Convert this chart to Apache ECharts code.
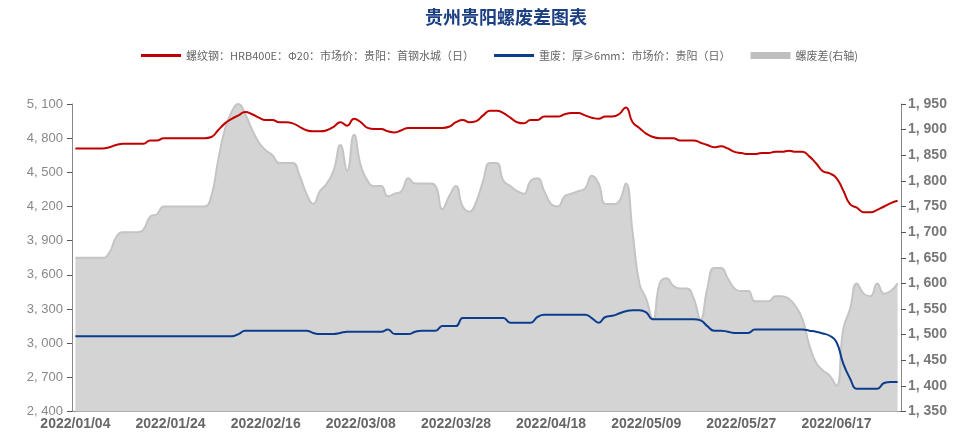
<!DOCTYPE html>
<html>
<head>
<meta charset="utf-8">
<script src="https://cdn.jsdelivr.net/npm/echarts@6/dist/echarts.min.js"></script>
<style>html,body{margin:0;padding:0;background:#fff}#c{width:975px;height:438px}</style>
</head>
<body>
<div id="c"></div>
<script>
const dates = [
'2022/01/04','2022/01/05','2022/01/06','2022/01/07','2022/01/10','2022/01/11','2022/01/12','2022/01/13','2022/01/14','2022/01/17',
'2022/01/18','2022/01/19','2022/01/20','2022/01/21','2022/01/24','2022/01/25','2022/01/26','2022/01/27','2022/01/28','2022/01/29',
'2022/01/30','2022/02/07','2022/02/08','2022/02/09','2022/02/10','2022/02/11','2022/02/14','2022/02/15','2022/02/16','2022/02/17',
'2022/02/18','2022/02/21','2022/02/22','2022/02/23','2022/02/24','2022/02/25','2022/02/28','2022/03/01','2022/03/02','2022/03/03',
'2022/03/04','2022/03/07','2022/03/08','2022/03/09','2022/03/10','2022/03/11','2022/03/14','2022/03/15','2022/03/16','2022/03/17',
'2022/03/18','2022/03/21','2022/03/22','2022/03/23','2022/03/24','2022/03/25','2022/03/28','2022/03/29','2022/03/30','2022/03/31',
'2022/04/01','2022/04/02','2022/04/06','2022/04/07','2022/04/08','2022/04/11','2022/04/12','2022/04/13','2022/04/14','2022/04/15',
'2022/04/18','2022/04/19','2022/04/20','2022/04/21','2022/04/22','2022/04/24','2022/04/25','2022/04/26','2022/04/27','2022/04/28',
'2022/04/29','2022/04/30','2022/05/05','2022/05/06','2022/05/09','2022/05/10','2022/05/11','2022/05/12','2022/05/13','2022/05/16',
'2022/05/17','2022/05/18','2022/05/19','2022/05/20','2022/05/23','2022/05/24','2022/05/25','2022/05/26','2022/05/27','2022/05/30',
'2022/05/31','2022/06/01','2022/06/02','2022/06/06','2022/06/07','2022/06/08','2022/06/09','2022/06/10','2022/06/13','2022/06/14',
'2022/06/15','2022/06/16','2022/06/17','2022/06/20','2022/06/21','2022/06/22','2022/06/23','2022/06/24','2022/06/27','2022/06/28',
'2022/06/29','2022/06/30'
];

const rebar = [
4710,4710,4710,4710,4710,4720,4740,4750,4750,4750,
4750,4780,4780,4800,4800,4800,4800,4800,4800,4800,
4810,4870,4930,4970,5000,5030,5010,4980,4960,4960,
4940,4940,4930,4900,4870,4860,4860,4870,4900,4940,
4910,4970,4940,4890,4880,4880,4860,4850,4870,4890,
4890,4890,4890,4890,4890,4900,4940,4960,4940,4950,
5000,5040,5040,5020,4980,4940,4930,4960,4960,4990,
4990,4990,5010,5020,5020,5000,4980,4970,4990,4990,
5010,5070,4940,4890,4840,4810,4800,4800,4800,4780,
4780,4780,4760,4740,4720,4730,4710,4680,4670,4660,
4660,4670,4670,4680,4680,4690,4680,4680,4640,4580,
4510,4490,4450,4340,4220,4190,4150,4150,4170,4200,
4230,4250
];

const scrap = [
3060,3060,3060,3060,3060,3060,3060,3060,3060,3060,
3060,3060,3060,3060,3060,3060,3060,3060,3060,3060,
3060,3060,3060,3060,3080,3110,3110,3110,3110,3110,
3110,3110,3110,3110,3110,3090,3080,3080,3080,3090,
3100,3100,3100,3100,3100,3100,3120,3080,3080,3080,
3100,3110,3110,3110,3150,3150,3150,3220,3220,3220,
3220,3220,3220,3220,3180,3180,3180,3180,3230,3250,
3250,3250,3250,3250,3250,3250,3220,3180,3230,3240,
3260,3280,3290,3290,3270,3210,3210,3210,3210,3210,
3210,3210,3200,3150,3110,3110,3100,3090,3090,3090,
3120,3120,3120,3120,3120,3120,3120,3120,3110,3100,
3085,3065,3010,2820,2690,2600,2600,2600,2600,2650,
2660,2660
];

const spread = [
1650,1650,1650,1650,1650,1660,1690,1700,1700,1700,
1705,1730,1735,1750,1750,1750,1750,1750,1750,1750,
1770,1840,1900,1935,1950,1930,1900,1875,1860,1850,
1835,1835,1835,1810,1775,1755,1780,1795,1820,1870,
1820,1890,1830,1800,1790,1790,1770,1775,1780,1805,
1795,1795,1795,1790,1745,1770,1790,1750,1740,1760,
1800,1835,1835,1800,1790,1780,1775,1800,1805,1780,
1755,1750,1770,1775,1780,1785,1810,1795,1755,1755,
1760,1795,1700,1600,1570,1530,1600,1610,1595,1590,
1590,1570,1530,1590,1630,1630,1610,1590,1585,1585,
1565,1565,1565,1575,1575,1570,1555,1530,1480,1445,
1430,1420,1400,1510,1550,1600,1580,1575,1600,1580,
1585,1600
];

const leftTicks = {min: 2400, max: 5100, interval: 300};
const rightTicks = {min: 1350, max: 1950, interval: 50};

const names = ['螺纹钢：HRB400E：Φ20：市场价：贵阳：首钢水城（日）', '重废：厚≥6mm：市场价：贵阳（日）', '螺废差(右轴)'];

function fmt(v){
  const s = String(Math.round(v));
  return s.length > 3 ? s.slice(0, s.length-3) + ', ' + s.slice(s.length-3) : s;
}

const lineIcon = 'path://M0,0L40,0L40,3L0,3Z';

const chart = echarts.init(document.getElementById('c'), null, {renderer: 'canvas'});
chart.setOption({
  animation: false,
  backgroundColor: '#fff',
  title: {
    text: '贵州贵阳螺废差图表',
    left: 420,
    top: 3,
    textStyle: {color: '#1b3f80', fontSize: 18, fontWeight: 'bold', fontFamily: 'Noto Sans CJK SC'}
  },
  legend: {
    top: 45,
    left: 136,
    itemGap: 20,
    itemWidth: 40,
    itemHeight: 7,
    textStyle: {color: '#666', fontSize: 11, fontFamily: 'Noto Sans CJK SC'},
    data: [
      {name: names[0], icon: lineIcon},
      {name: names[1], icon: lineIcon},
      {name: names[2], icon: 'rect'}
    ]
  },
  grid: {left: 72, right: 74, top: 104, bottom: 26.5, containLabel: false},
  xAxis: {
    type: 'category',
    data: dates,
    boundaryGap: true,
    axisLine: {lineStyle: {color: '#888', width: 1}},
    axisTick: {interval: 13, length: 5, lineStyle: {color: '#555'}},
    axisLabel: {interval: 13, color: '#666', fontSize: 14, fontWeight: 'bold', fontFamily: 'Liberation Sans', margin: 6},
    splitLine: {show: false}
  },
  yAxis: [
    {
      type: 'value', position: 'left',
      min: leftTicks.min, max: leftTicks.max, interval: leftTicks.interval,
      axisLine: {show: true, lineStyle: {color: '#888'}},
      axisTick: {show: true, length: 5, lineStyle: {color: '#555'}},
      axisLabel: {color: '#888', fontSize: 13, fontFamily: 'Liberation Sans', margin: 9, formatter: fmt},
      splitLine: {show: false}
    },
    {
      type: 'value', position: 'right',
      min: rightTicks.min, max: rightTicks.max, interval: rightTicks.interval,
      axisLine: {show: true, lineStyle: {color: '#888'}},
      axisTick: {show: true, length: 5, lineStyle: {color: '#555'}},
      axisLabel: {color: '#777', fontSize: 14, fontWeight: 'bold', fontFamily: 'Liberation Sans', margin: 7, formatter: fmt},
      splitLine: {show: false}
    }
  ],
  series: [
    {
      name: names[2], type: 'line', yAxisIndex: 1, data: spread,
      smooth: true, symbol: 'none', z: 1,
      itemStyle: {color: '#bfbfbf'},
      lineStyle: {color: '#c4c4c4', width: 2},
      areaStyle: {color: '#d4d4d4', opacity: 1, origin: 'start'}
    },
    {
      name: names[0], type: 'line', yAxisIndex: 0, data: rebar,
      smooth: true, symbol: 'none', z: 3,
      itemStyle: {color: '#c00000'},
      lineStyle: {color: '#c00000', width: 2}
    },
    {
      name: names[1], type: 'line', yAxisIndex: 0, data: scrap,
      smooth: true, symbol: 'none', z: 3,
      itemStyle: {color: '#0b3d8c'},
      lineStyle: {color: '#0b3d8c', width: 2}
    }
  ]
});
</script>
</body>
</html>
